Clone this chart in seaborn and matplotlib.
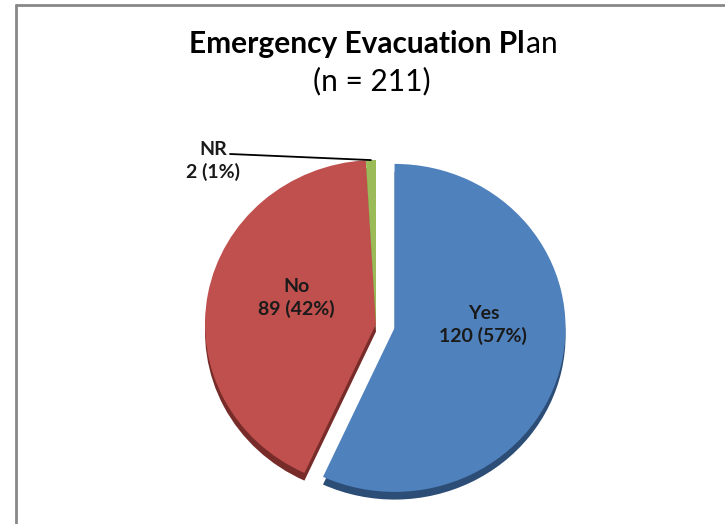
import numpy as np
import matplotlib
matplotlib.use("Agg")
import matplotlib.pyplot as plt
import seaborn as sns

# data
categories = ["Yes", "No", "NR"]
counts = [120, 89, 2]
percents = [57, 42, 1]
colors = ["#4F81BD", "#C0504D", "#9BBB59"]
shade = ["#2C4D75", "#772C2A", "#5F7530"]
title_bold = "Emergency Evacuation Pl"
title_rest = "an"
subtitle = "(n = 211)"

sns.set_style("white")
plt.rcParams['font.family'] = ['Lato', 'DejaVu Sans']

W, H = 725, 524
sy = 171 / 164  # slight vertical squash of the pie (tilted look)
fig = plt.figure(figsize=(W / 100, H / 100), dpi=100)
ax = fig.add_axes([0, 0, 1, 1])


def to_data(px, py):
    return px, (H - py) * sy


cx, cy = to_data(376, 324)
rad = 171
explode = [19, 0, 0]

# thickness (3d look) - darker copy slightly lower
ax.pie(counts, colors=shade, startangle=90, counterclock=False, explode=explode,
       center=(cx, cy - 8), radius=rad, frame=True,
       wedgeprops=dict(linewidth=0))
wedges, _ = ax.pie(counts, colors=colors, startangle=90, counterclock=False,
                   explode=explode, center=(cx, cy), radius=rad, frame=True,
                   wedgeprops=dict(linewidth=0))
ax.set_xlim(0, W)
ax.set_ylim(0, H * sy)
ax.set_aspect('auto')
ax.axis('off')

# labels inside for Yes / No  (distance as fraction of radius, angle in deg)
label_place = [(0.52, 2), (0.49, 161)]
for w, cat, n, p, (fr, ang) in zip(wedges[:2], categories[:2], counts[:2],
                                   percents[:2], label_place):
    wx, wy = w.center
    a = np.deg2rad(ang)
    ax.text(wx + fr * rad * np.cos(a), wy + fr * rad * np.sin(a),
            f"{cat}\n{n} ({p}%)", ha='center', va='center', fontsize=14,
            fontweight='bold', color='#1a1a1a', linespacing=1.3)

# NR label outside with leader line
w = wedges[2]
mid = np.deg2rad((w.theta1 + w.theta2) / 2)
wx, wy = w.center
px, py = wx + rad * np.cos(mid), wy + rad * np.sin(mid)
lx, ly = to_data(230, 154)
ax.plot([lx, px], [ly, py], color='black', lw=1.3)
tx, ty = to_data(213, 161)
ax.text(tx, ty, f"{categories[2]}\n{counts[2]} ({percents[2]}%)",
        ha='center', va='center', fontsize=14, fontweight='bold',
        color='#1a1a1a', linespacing=1.3)

# title: bold part + regular tail, centred as a whole
renderer = fig.canvas.get_renderer()
t1 = fig.text(0, 1 - 44 / H, title_bold, ha='left', va='center',
              fontsize=21.5, fontweight='bold', color='black')
t2 = fig.text(0, 1 - 44 / H, title_rest, ha='left', va='center',
              fontsize=21.5, color='black')
w1 = t1.get_window_extent(renderer).width
w2 = t2.get_window_extent(renderer).width
x0 = 373 - (w1 + w2) / 2
t1.set_x(x0 / W)
t2.set_x((x0 + w1 + 1) / W)
fig.text(372 / W, 1 - 81 / H, subtitle, ha='center', va='center',
         fontsize=21.5, color='black')

# chart border (top and left visible)
fig.add_artist(plt.Line2D([16 / W, 1], [1 - 5 / H, 1 - 5 / H], color='#888888', lw=2,
                          transform=fig.transFigure))
fig.add_artist(plt.Line2D([16 / W, 16 / W], [0, 1 - 5 / H], color='#888888', lw=2,
                          transform=fig.transFigure))

fig.savefig("out.png", dpi=100)
